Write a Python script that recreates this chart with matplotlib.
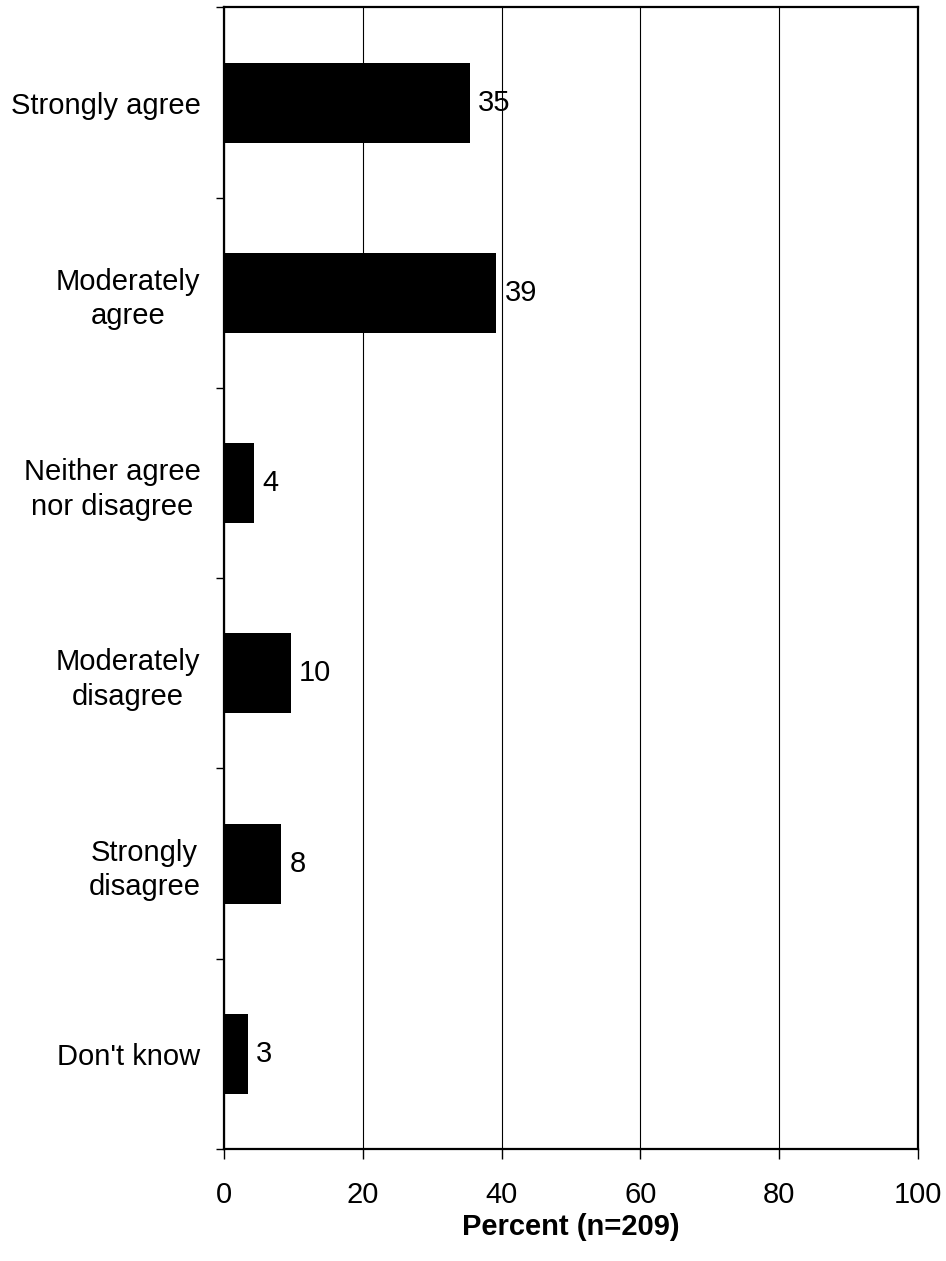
import numpy as np
import matplotlib.pyplot as plt

plt.rcParams['font.family'] = ['Liberation Sans', 'DejaVu Sans']

categories = ["Strongly agree", "Moderately\nagree", "Neither agree\nnor disagree",
              "Moderately\ndisagree", "Strongly\ndisagree", "Don't know"]
percent = [35.4, 39.2, 4.3, 9.6, 8.2, 3.4]
xticks = [0, 20, 40, 60, 80, 100]

fig = plt.figure(figsize=(9.46, 12.61), dpi=100)
ax = fig.add_axes([0.2368, 0.0888, 0.9704 - 0.2368, 0.9941 - 0.0888])

y = np.arange(len(categories))
ax.barh(y, percent, height=0.42, color='black', zorder=3)
for yi, v in zip(y, percent):
    ax.annotate(f"{round(v)}", xy=(v, yi), xytext=(6, 0), textcoords='offset points',
                va='center', ha='left', fontsize=21, zorder=4)

ax.set_xlim(0, 100)
ax.set_ylim(len(categories) - 0.5, -0.5)
ax.set_xticks(xticks)
ax.set_xticklabels([str(t) for t in xticks], fontsize=21)
ax.tick_params(axis='x', direction='out', length=7, width=1, pad=16)
ax.xaxis.grid(True, color='black', linewidth=0.8, zorder=0)

ax.set_yticks(y)
ax.set_yticklabels(categories, fontsize=21)
for lbl in ax.get_yticklabels():
    lbl.set_multialignment('center')
    lbl.set_linespacing(1.3)
ax.set_yticks(np.arange(len(categories) + 1) - 0.5, minor=True)
ax.tick_params(axis='y', which='major', length=0, pad=17)
ax.tick_params(axis='y', which='minor', direction='out', length=6, width=1)

for s in ax.spines.values():
    s.set_linewidth(1.6)
    s.set_zorder(5)

ax.set_xlabel("Percent (n=209)", fontsize=21, fontweight='bold', labelpad=3)

fig.savefig("out.png", dpi=100)
